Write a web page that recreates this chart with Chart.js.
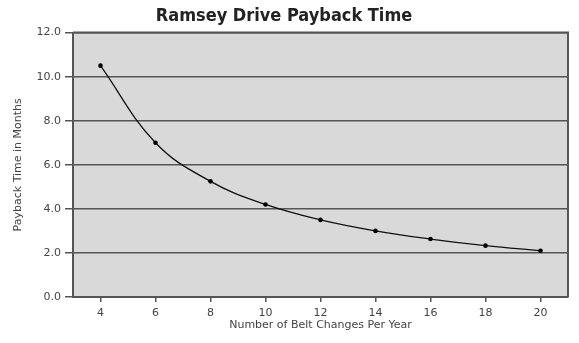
<!DOCTYPE html>
<html>
<head>
<meta charset="utf-8">
<script src="https://cdn.jsdelivr.net/npm/chart.js@4/dist/chart.umd.min.js"></script>
<style>
  html, body { margin: 0; padding: 0; background: #fff; }
  #wrap { width: 579px; height: 343px; }
</style>
</head>
<body>
<div id="wrap"><canvas id="c"></canvas></div>
<script>
// Data
const beltChanges = [4, 6, 8, 10, 12, 14, 16, 18, 20];
const paybackMonths = [10.5, 7.0, 5.25, 4.2, 3.5, 3.0, 2.63, 2.33, 2.1];
const xTicks = [4, 6, 8, 10, 12, 14, 16, 18, 20];

const axisColor = '#555';
const textColor = '#444';

// grey plot background + top/right border
const plotBox = {
    id: 'plotBox',
    beforeDraw(chart) {
        const { ctx, chartArea: a } = chart;
        ctx.save();
        ctx.fillStyle = '#d9d9d9';
        ctx.fillRect(a.left, a.top, a.right - a.left, a.bottom - a.top);
        ctx.restore();
    },
    afterDatasetsDraw(chart) {
        const { ctx, chartArea: a } = chart;
        ctx.save();
        ctx.strokeStyle = axisColor;
        ctx.lineWidth = 2;
        ctx.beginPath();
        ctx.moveTo(a.left, a.top);
        ctx.lineTo(a.right, a.top);
        ctx.lineTo(a.right, a.bottom);
        ctx.stroke();
        ctx.restore();
    }
};

new Chart(document.getElementById('c'), {
    type: 'line',
    data: {
        datasets: [{
            data: beltChanges.map((x, i) => ({ x: x, y: paybackMonths[i] })),
            borderColor: '#111',
            borderWidth: 1.3,
            backgroundColor: '#000',
            pointRadius: 2.3,
            pointBorderWidth: 0,
            tension: 0.4,
            fill: false
        }]
    },
    options: {
        responsive: true,
        maintainAspectRatio: false,
        animation: false,
        layout: { padding: { left: 0, right: 11, top: 0, bottom: 0 } },
        plugins: {
            legend: { display: false },
            tooltip: { enabled: false },
            title: {
                display: true,
                text: 'Ramsey Drive Payback Time',
                color: '#222',
                font: { family: "'DejaVu Sans Condensed', 'DejaVu Sans'", size: 18, weight: 'bold' },
                padding: { top: 6, bottom: 5 }
            }
        },
        scales: {
            x: {
                type: 'linear',
                min: 3,
                max: 21,
                afterBuildTicks: s => { s.ticks = xTicks.map(v => ({ value: v })); },
                grid: { drawOnChartArea: false, drawTicks: true, tickLength: 5, color: axisColor, lineWidth: 1.5 },
                border: { color: axisColor, width: 2 },
                ticks: { color: textColor, font: { family: 'DejaVu Sans', size: 11 }, padding: 5 },
                title: {
                    display: true,
                    text: 'Number of Belt Changes Per Year',
                    color: textColor,
                    font: { family: 'DejaVu Sans', size: 11 },
                    padding: { top: 4, bottom: 11 }
                },
                afterFit: s => { s.height = 46; }
            },
            y: {
                min: 0,
                max: 12,
                ticks: {
                    stepSize: 2,
                    color: textColor,
                    font: { family: 'DejaVu Sans', size: 11 },
                    padding: 4,
                    callback: v => v.toFixed(1)
                },
                grid: { color: axisColor, lineWidth: 1.5, tickLength: 8 },
                border: { color: axisColor, width: 2 },
                title: {
                    display: true,
                    text: 'Payback Time in Months',
                    color: textColor,
                    font: { family: 'DejaVu Sans', size: 11 },
                    padding: { top: 12, bottom: 6 }
                },
                afterFit: s => { s.width = 73; }
            }
        }
    },
    plugins: [plotBox]
});
</script>
</body>
</html>
